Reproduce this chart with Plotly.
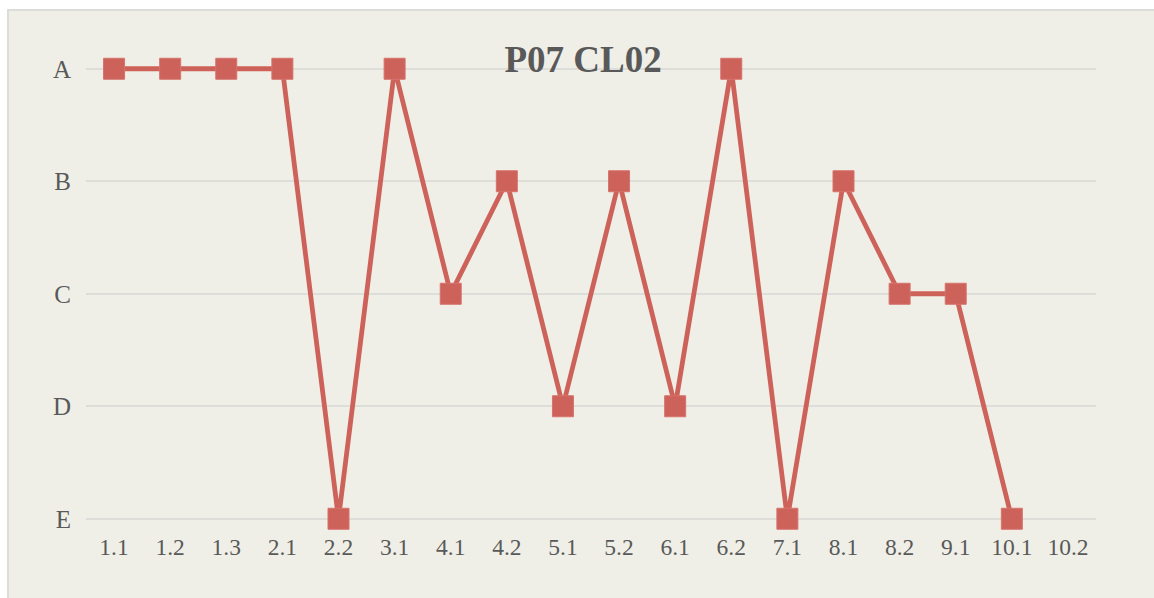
import plotly.graph_objects as go

categories = ["1.1", "1.2", "1.3", "2.1", "2.2", "3.1", "4.1", "4.2", "5.1",
              "5.2", "6.1", "6.2", "7.1", "8.1", "8.2", "9.1", "10.1", "10.2"]
grades = ["A", "A", "A", "A", "E", "A", "C", "B", "D",
          "B", "D", "A", "E", "B", "C", "C", "E", None]
grade_levels = ["E", "D", "C", "B", "A"]
title_text = "P07 CL02"

bg = "#F0EFE7"
red = "#CD625A"
txt = "#595959"
font_family = "Liberation Serif, DejaVu Serif, serif"

W, H = 1154, 598
L, R, T, B = 86, 58, 35, 68
pw, ph = W - L - R, H - T - B

def px_x(p):
    return (p - L) / pw

def px_y(p):
    return (H - B - p) / ph

fig = go.Figure()
fig.add_trace(go.Scatter(
    x=categories, y=grades, mode="lines+markers",
    line=dict(color=red, width=4.8),
    marker=dict(symbol="square", size=21, color=red,
                line=dict(color="#D6736C", width=1)),
    cliponaxis=False, connectgaps=False, showlegend=False,
))

fig.add_shape(type="rect", xref="paper", yref="paper", layer="below",
              x0=px_x(8), x1=px_x(1170), y0=px_y(10), y1=px_y(620),
              fillcolor=bg, line=dict(color="#DCDCD8", width=2))

fig.update_layout(
    width=W, height=H,
    margin=dict(l=L, r=R, t=T, b=B, pad=0),
    paper_bgcolor="white", plot_bgcolor="rgba(0,0,0,0)",
    title=dict(text="<b>" + title_text + "</b>", x=583 / W, xref="container",
               xanchor="center", y=1 - 59 / H, yref="container", yanchor="middle",
               font=dict(family=font_family, size=37, color=txt)),
    font=dict(family=font_family, color=txt, size=23),
)
fig.update_xaxes(type="category", categoryorder="array", categoryarray=categories,
                 range=[-0.5, len(categories) - 0.5], showgrid=False, zeroline=False,
                 showline=False, ticks="", tickfont=dict(size=23.5, color=txt),
                 fixedrange=True)
fig.update_yaxes(type="category", categoryorder="array", categoryarray=grade_levels,
                 range=[-0.1, 4.3], showgrid=True, gridcolor="#DDDDD9", gridwidth=1.5,
                 zeroline=False, showline=False, ticks="", ticklabelstandoff=14,
                 tickfont=dict(size=25, color=txt), fixedrange=True)

fig.write_html("out.html", config={"displayModeBar": False},
               post_script="document.body.style.margin='0';document.body.style.overflow='hidden';")
